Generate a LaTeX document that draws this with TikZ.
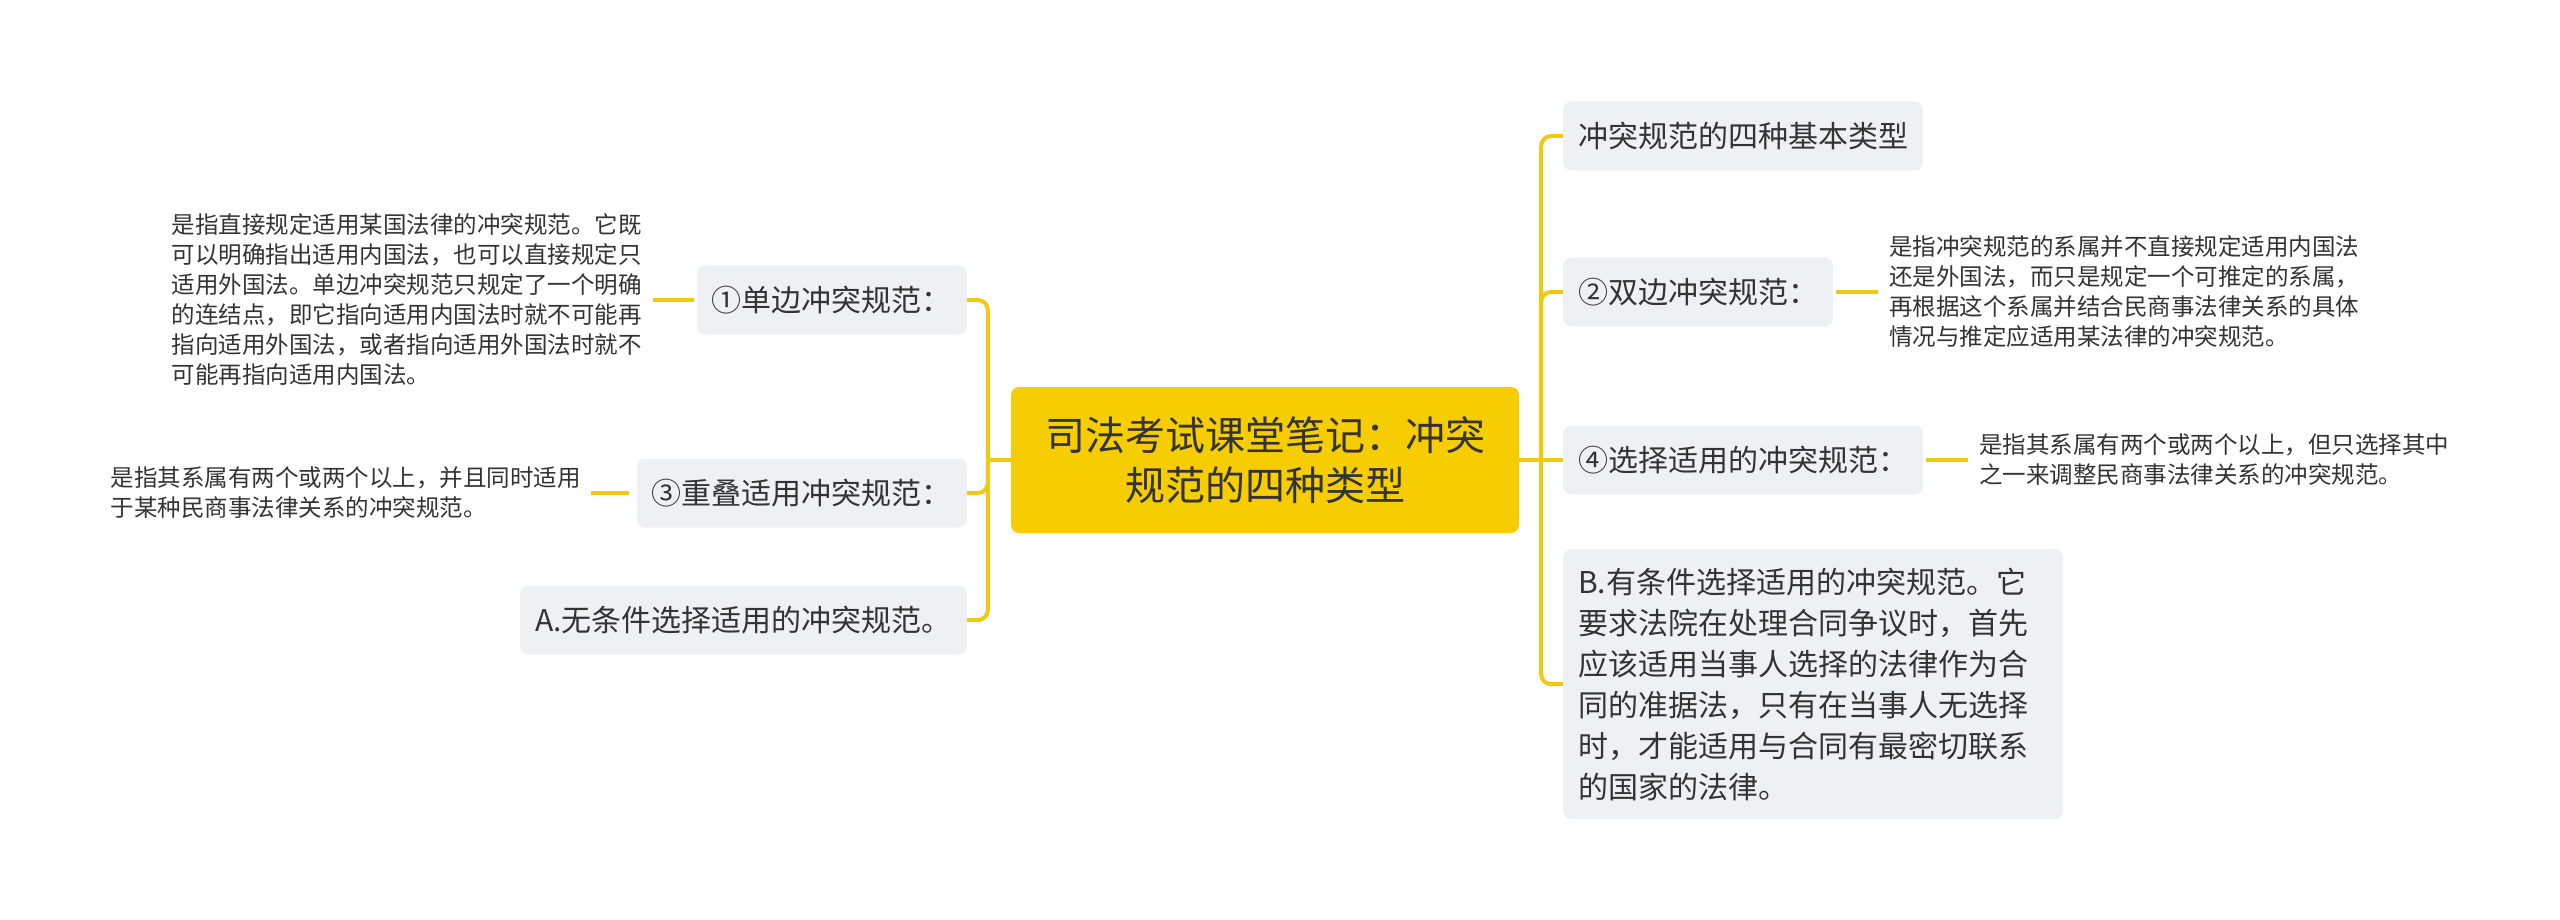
\documentclass[tikz,border=0pt]{standalone}
\usepackage{fontspec}
\setmainfont{Noto Sans CJK SC}
\usetikzlibrary{positioning}
\definecolor{gold}{HTML}{F5CD00}
\definecolor{linegold}{HTML}{F2C811}
\definecolor{boxgray}{HTML}{EEF1F4}
\definecolor{ink}{HTML}{333333}
\tikzset{
  topic/.style={fill=gold, rounded corners=8pt, text=ink, align=center, text width=440pt,
    minimum width=508pt, minimum height=146pt, inner sep=0pt, font=\fontsize{40}{50}\selectfont},
  subtopic/.style={fill=boxgray, rounded corners=8pt, text=ink, inner xsep=15pt, inner ysep=0pt,
    minimum height=69pt, font=\fontsize{30}{41}\selectfont},
  note/.style={text=ink, align=left, inner sep=0pt, font=\fontsize{23.5}{30}\selectfont},
  link/.style={draw=linegold, line width=4pt, rounded corners=10pt}
}

\begin{document}
\begin{tikzpicture}[x=1pt,y=-1pt]
\useasboundingbox (0,0) rectangle (2560,920);
% centre
\node[topic] (root) at (1265,460) {司法考试课堂笔记：冲突\\规范的四种类型};
\coordinate (rbus) at ([xshift=22pt]root.east);
\coordinate (lbus) at ([xshift=-23pt]root.west);
% right branch
\node[subtopic, anchor=west] (r1) at (1563,136) {冲突规范的四种基本类型};
\node[subtopic, anchor=west] (r2) at (1563,292) {②双边冲突规范：};
\node[subtopic, anchor=west] (r3) at (1563,460) {④选择适用的冲突规范：};
\node[subtopic, anchor=north west, align=left, text width=470pt, minimum height=270pt] (r4) at (1563,549)
  {B.有条件选择适用的冲突规范。它\\要求法院在处理合同争议时，首先\\应该适用当事人选择的法律作为合\\同的准据法，只有在当事人无选择\\时，才能适用与合同有最密切联系\\的国家的法律。};
\node[note, anchor=west] (rd2) at (1889,292)
  {是指冲突规范的系属并不直接规定适用内国法\\还是外国法，而只是规定一个可推定的系属，\\再根据这个系属并结合民商事法律关系的具体\\情况与推定应适用某法律的冲突规范。};
\node[note, anchor=west] (rd3) at (1979,460)
  {是指其系属有两个或两个以上，但只选择其中\\之一来调整民商事法律关系的冲突规范。};
% left branch
\node[subtopic, anchor=east] (l1) at (967,300) {①单边冲突规范：};
\node[subtopic, anchor=east] (l2) at (967,493) {③重叠适用冲突规范：};
\node[subtopic, anchor=east] (l3) at (967,620) {A.无条件选择适用的冲突规范。};
\node[note, anchor=east] (ld1) at (642,300)
  {是指直接规定适用某国法律的冲突规范。它既\\可以明确指出适用内国法，也可以直接规定只\\适用外国法。单边冲突规范只规定了一个明确\\的连结点，即它指向适用内国法时就不可能再\\指向适用外国法，或者指向适用外国法时就不\\可能再指向适用内国法。};
\node[note, anchor=east] (ld2) at (581,493)
  {是指其系属有两个或两个以上，并且同时适用\\于某种民商事法律关系的冲突规范。};
% connectors
\draw[link] (root.east) -- (rbus);
\draw[link] (rbus) |- (r1.west);
\draw[link] (rbus) |- (r2.west);
\draw[link] (rbus) -- (r3.west);
\draw[link] (rbus) |- (r4.west);
\draw[link] (root.west) -- (lbus);
\draw[link] (lbus) |- (l1.east);
\draw[link] (lbus) |- (l2.east);
\draw[link] (lbus) |- (l3.east);
\draw[link, shorten <=3pt, shorten >=11pt] (r2.east) -- (rd2.west);
\draw[link, shorten <=3pt, shorten >=11pt] (r3.east) -- (rd3.west);
\draw[link, shorten <=3pt, shorten >=11pt] (l1.west) -- (ld1.east);
\draw[link, shorten <=8pt, shorten >=10pt] (l2.west) -- (ld2.east);
\end{tikzpicture}
\end{document}
